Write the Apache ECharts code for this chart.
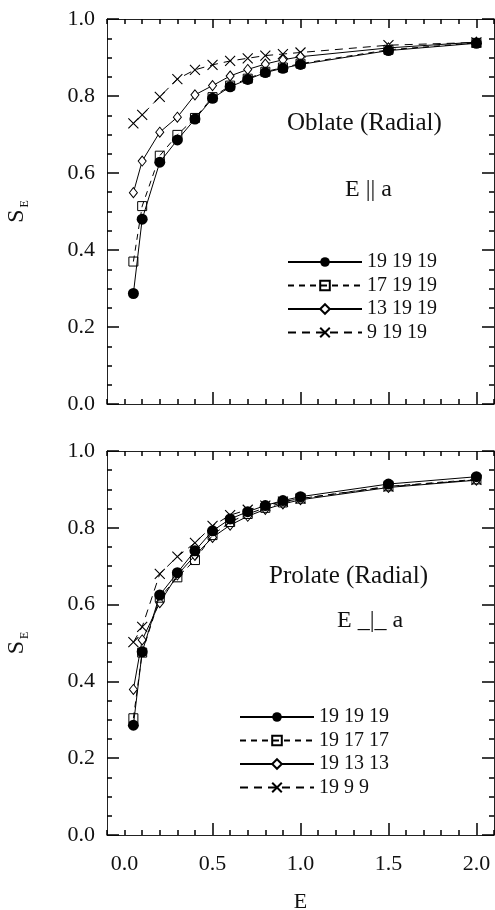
<!DOCTYPE html>
<html>
<head>
<meta charset="utf-8">
<script src="https://cdn.jsdelivr.net/npm/echarts@6/dist/echarts.min.js"></script>
<style>
html,body{margin:0;padding:0;background:#fff;}
#c{width:495px;height:910px;}
</style>
</head>
<body>
<div id="c"></div>
<script>
// ---- data ----
const xValues = [0.05, 0.1, 0.2, 0.3, 0.4, 0.5, 0.6, 0.7, 0.8, 0.9, 1.0, 1.5, 2.0];

// Oblate (Radial), E || a
const oblateNames = ['19 19 19', '17 19 19', '13 19 19', '9 19 19'];
const oblate_19_19_19 = [0.287, 0.480, 0.628, 0.686, 0.740, 0.794, 0.824, 0.843, 0.861, 0.872, 0.882, 0.918, 0.937];
const oblate_17_19_19 = [0.370, 0.514, 0.645, 0.699, 0.743, 0.797, 0.827, 0.845, 0.863, 0.874, 0.884, 0.920, 0.938];
const oblate_13_19_19 = [0.549, 0.631, 0.706, 0.745, 0.803, 0.827, 0.852, 0.869, 0.883, 0.894, 0.902, 0.925, 0.940];
const oblate_9_19_19  = [0.729, 0.751, 0.798, 0.844, 0.868, 0.881, 0.891, 0.898, 0.905, 0.909, 0.913, 0.932, 0.939];

// Prolate (Radial), E _|_ a
const prolateNames = ['19 19 19', '19 17 17', '19 13 13', '19 9 9'];
const prolate_19_19_19 = [0.286, 0.477, 0.625, 0.683, 0.740, 0.792, 0.823, 0.842, 0.858, 0.871, 0.881, 0.914, 0.933];
const prolate_19_17_17 = [0.304, 0.475, 0.618, 0.671, 0.716, 0.781, 0.815, 0.836, 0.852, 0.866, 0.876, 0.908, 0.926];
const prolate_19_13_13 = [0.379, 0.508, 0.605, 0.677, 0.728, 0.775, 0.807, 0.830, 0.848, 0.862, 0.873, 0.905, 0.924];
const prolate_19_9_9   = [0.502, 0.542, 0.680, 0.725, 0.761, 0.805, 0.833, 0.847, 0.858, 0.868, 0.876, 0.907, 0.925];

const xTickLabels = ['0.0', '0.5', '1.0', '1.5', '2.0'];
const xMajorTicks = [0.5, 1.0, 1.5, 2.0];
const yTickLabels = ['0.0', '0.2', '0.4', '0.6', '0.8', '1.0'];

// ---- styling ----
const FONT = '"Liberation Serif", "Times New Roman", serif';
const AX = '#222';
const TK = '#000';
const TW = 1.5;
const crossPath = 'path://M0,0L10,10M10,0L0,10';

const styles = [
  { symbol: 'circle', symbolSize: 11, lineType: 'solid', item: { color: '#000', borderColor: '#000', borderWidth: 0 } },
  { symbol: 'rect', symbolSize: 9, lineType: [6, 5], item: { color: 'rgba(0,0,0,0)', borderColor: '#000', borderWidth: 1 } },
  { symbol: 'diamond', symbolSize: [8, 10], lineType: 'solid', item: { color: '#fff', borderColor: '#000', borderWidth: 1 } },
  { symbol: crossPath, symbolSize: 10, lineType: [8, 6], item: { color: '#000', borderColor: '#000', borderWidth: 1.1 } }
];

const pair = arr => xValues.map((x, i) => [x, arr[i]]);

const plotRects = [
  { left: 107, top: 19, width: 387, height: 385 },
  { left: 107, top: 451, width: 387, height: 384 }
];
// grids 0,1: main plots; grids 2,3: overlays (same rect) carrying the major x ticks
const grids = plotRects.concat(plotRects).map(r => Object.assign({ outerBoundsMode: 'none' }, r));

const xAxes = [];
const yAxes = [];
const xBase = gi => ({ type: 'value', gridIndex: gi, min: -0.1, max: 2.1, interval: 0.1, splitLine: { show: false } });

plotRects.forEach((r, gi) => {
  const isBottom = gi === 1;
  xAxes.push(Object.assign(xBase(gi), {
    position: 'bottom',
    axisLine: { show: true, lineStyle: { color: AX, width: 1 } },
    axisTick: { show: true, inside: true, length: 5, lineStyle: { color: TK, width: TW } },
    axisLabel: isBottom ? {
      show: true, margin: 18, fontFamily: FONT, fontSize: 22, color: '#111',
      formatter: v => xTickLabels.find(t => Math.abs(Number(t) - v) < 1e-6) || ''
    } : { show: false },
    name: isBottom ? 'E' : '',
    nameLocation: 'middle', nameGap: 56,
    nameTextStyle: { fontFamily: FONT, fontSize: 22, color: '#111' }
  }));
  xAxes.push(Object.assign(xBase(gi), {
    position: 'top',
    axisLine: { show: true, onZero: false, lineStyle: { color: AX, width: 1 } },
    axisTick: { show: true, inside: true, length: 5, lineStyle: { color: TK, width: TW } },
    axisLabel: { show: false }
  }));

  const ybase = { type: 'value', gridIndex: gi, min: 0, max: 1, interval: 0.2, splitLine: { show: false } };
  yAxes.push(Object.assign({}, ybase, {
    position: 'left',
    axisLine: { show: true, onZero: false, lineStyle: { color: AX, width: 1 } },
    axisTick: { show: true, inside: true, length: 12, lineStyle: { color: TK, width: TW } },
    minorTick: { show: true, splitNumber: 4, length: 5, lineStyle: { color: TK, width: TW } },
    axisLabel: { show: true, margin: 12, fontFamily: FONT, fontSize: 22, color: '#111',
      formatter: v => yTickLabels.find(t => Math.abs(Number(t) - v) < 1e-6) || '' },
    name: '{s|S}{e|E}',
    nameLocation: 'middle', nameRotate: 90, nameGap: 76,
    nameTextStyle: {
      rich: {
        s: { fontFamily: FONT, fontSize: 24, color: '#111' },
        e: { fontFamily: FONT, fontSize: 12, color: '#111', padding: [16, 0, 0, 2] }
      }
    }
  }));
  yAxes.push(Object.assign({}, ybase, {
    position: 'right',
    axisLine: { show: true, onZero: false, lineStyle: { color: AX, width: 1 } },
    axisTick: { show: true, inside: true, length: 12, lineStyle: { color: TK, width: TW } },
    minorTick: { show: true, splitNumber: 4, length: 5, lineStyle: { color: TK, width: TW } },
    axisLabel: { show: false }
  }));
});

plotRects.forEach((r, i) => {
  const gi = i + 2;
  xAxes.push(Object.assign(xBase(gi), {
    position: 'bottom',
    axisLine: { show: false },
    axisTick: { show: true, inside: true, length: 12, customValues: xMajorTicks, lineStyle: { color: TK, width: TW } },
    axisLabel: { show: false }
  }));
  xAxes.push(Object.assign(xBase(gi), {
    position: 'top',
    axisLine: { show: false, onZero: false },
    axisTick: { show: true, inside: true, length: 9, customValues: xMajorTicks, lineStyle: { color: TK, width: TW } },
    axisLabel: { show: false }
  }));
  yAxes.push({ type: 'value', gridIndex: gi, min: 0, max: 1, show: false });
});

function makeSeries(name, data, styleIdx, gi, z) {
  const st = styles[styleIdx];
  return {
    type: 'line', name: name, data: pair(data),
    xAxisIndex: gi * 2, yAxisIndex: gi * 2,
    symbol: st.symbol, symbolSize: st.symbolSize,
    showAllSymbol: true, animation: false, z: z,
    lineStyle: { color: '#000', width: 1, type: st.lineType },
    itemStyle: st.item,
    emphasis: { disabled: true }
  };
}

const series = [
  makeSeries(oblateNames[3], oblate_9_19_19, 3, 0, 2),
  makeSeries(oblateNames[2], oblate_13_19_19, 2, 0, 3),
  makeSeries(oblateNames[1], oblate_17_19_19, 1, 0, 4),
  makeSeries(oblateNames[0], oblate_19_19_19, 0, 0, 5),
  makeSeries(prolateNames[3], prolate_19_9_9, 3, 1, 2),
  makeSeries(prolateNames[2], prolate_19_13_13, 2, 1, 3),
  makeSeries(prolateNames[1], prolate_19_17_17, 1, 1, 4),
  makeSeries(prolateNames[0], prolate_19_19_19, 0, 1, 5)
];

const legendCommon = {
  orient: 'vertical', itemWidth: 74, itemHeight: 12, itemGap: 3.5,
  selectedMode: false,
  textStyle: { fontFamily: FONT, fontSize: 20, color: '#111', lineHeight: 20, padding: [0, 0, 0, 0] }
};

const option = {
  backgroundColor: '#fff',
  animation: false,
  grid: grids,
  xAxis: xAxes,
  yAxis: yAxes,
  legend: [
    Object.assign({}, legendCommon, { left: 282, top: 247, data: oblateNames }),
    Object.assign({}, legendCommon, { left: 234, top: 702, data: prolateNames })
  ],
  graphic: [
    { type: 'text', left: 287, top: 111, style: { text: 'Oblate (Radial)', font: '25px ' + FONT, fill: '#111' } },
    { type: 'text', left: 345, top: 178, style: { text: 'E || a', font: '24px ' + FONT, fill: '#111' } },
    { type: 'text', left: 269, top: 564, style: { text: 'Prolate (Radial)', font: '25px ' + FONT, fill: '#111' } },
    { type: 'text', left: 337, top: 609, style: { text: 'E _|_ a', font: '24px ' + FONT, fill: '#111' } }
  ],
  series: series
};

const chart = echarts.init(document.getElementById('c'), null, { renderer: 'canvas' });
chart.setOption(option);
</script>
</body>
</html>
